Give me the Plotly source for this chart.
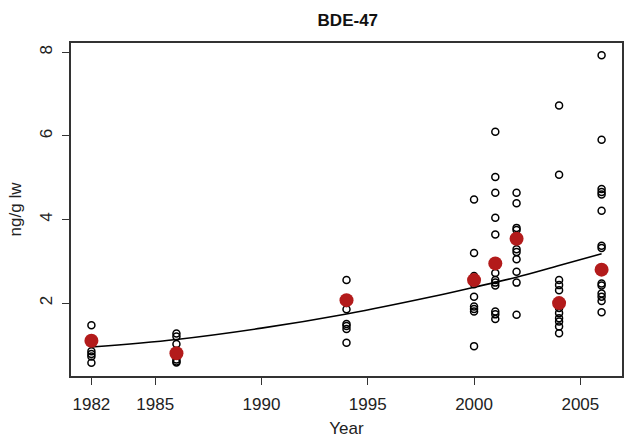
import plotly.graph_objects as go

# Individual sample values (ng/g lw) per year
years = [1982, 1986, 1994, 2000, 2001, 2002, 2004, 2006]
samples = {
    1982: [1.47, 0.85, 0.78, 0.72, 0.57],
    1986: [1.27, 1.20, 1.02, 0.65, 0.60, 0.58],
    1994: [2.55, 2.00, 1.85, 1.50, 1.45, 1.38, 1.05],
    2000: [4.48, 3.20, 2.65, 2.45, 2.15, 1.92, 1.86, 1.80, 0.97],
    2001: [6.10, 5.02, 4.64, 4.04, 3.64, 2.72, 2.55, 2.49, 2.42, 1.80, 1.73, 1.62],
    2002: [4.64, 4.39, 3.80, 3.75, 3.29, 3.22, 3.05, 2.75, 2.49, 1.72],
    2004: [6.73, 5.07, 2.55, 2.43, 2.31, 1.88, 1.76, 1.64, 1.56, 1.44, 1.28],
    2006: [7.93, 5.91, 4.73, 4.66, 4.60, 4.21, 3.37, 3.32, 2.47, 2.42, 2.23, 2.15, 2.05, 1.78],
}
# Yearly means (red dots)
mean_values = [1.10, 0.80, 2.07, 2.55, 2.95, 3.54, 2.00, 2.80]

# Trend line
trend_years = [1982, 1986, 1990, 1994, 1998, 2000, 2002, 2004, 2006]
trend_values = [0.95, 1.13, 1.40, 1.74, 2.15, 2.38, 2.62, 2.90, 3.18]

x_ticks = [1982, 1985, 1990, 1995, 2000, 2005]
y_ticks = [2, 4, 6, 8]

sx, sy = [], []
for yr in years:
    for v in samples[yr]:
        sx.append(yr)
        sy.append(v)

FONT = "Liberation Sans, Arial, Helvetica, sans-serif"

fig = go.Figure()
fig.add_trace(go.Scatter(x=trend_years, y=trend_values, mode="lines",
                         line=dict(color="black", width=1.6, shape="spline"),
                         hoverinfo="skip", showlegend=False))
fig.add_trace(go.Scatter(x=sx, y=sy, mode="markers",
                         marker=dict(symbol="circle-open", size=7, color="black",
                                     line=dict(width=1.5, color="black")),
                         showlegend=False))
fig.add_trace(go.Scatter(x=years, y=mean_values, mode="markers",
                         marker=dict(symbol="circle", size=14, color="#B31B1B",
                                     line=dict(width=0)),
                         showlegend=False))

fig.update_layout(
    width=629, height=440,
    margin=dict(l=71, r=5, t=43, b=62),
    paper_bgcolor="white", plot_bgcolor="white",
    font=dict(family=FONT, size=17, color="#222222"),
    title=dict(text="<b>BDE-47</b>", x=0.553, xanchor="center",
               y=1 - 20 / 440, yanchor="middle",
               font=dict(size=17, family=FONT, color="#111111")),
)
fig.update_xaxes(
    range=[1981.04, 2006.96], tickmode="array", tickvals=x_ticks,
    ticktext=[str(t) for t in x_ticks],
    showgrid=False, zeroline=False, showline=True, linecolor="#333333",
    linewidth=1.5, mirror=True, ticks="outside", ticklen=7, tickwidth=1.3,
    tickcolor="#333333", tickfont=dict(size=17), ticklabelstandoff=5,
    title=dict(text="Year", standoff=9, font=dict(size=17)),
)
fig.update_yaxes(
    range=[0.255, 8.225], tickmode="array", tickvals=y_ticks,
    ticktext=[str(t) for t in y_ticks], tickangle=-90,
    showgrid=False, zeroline=False, showline=True, linecolor="#333333",
    linewidth=1.5, mirror=True, ticks="outside", ticklen=7, tickwidth=1.3,
    tickcolor="#333333", tickfont=dict(size=17), ticklabelstandoff=3,
    title=dict(text="ng/g lw", standoff=12, font=dict(size=17)),
)

fig.write_html("out.html",
               config={"displayModeBar": False},
               post_script="document.body.style.margin='0';document.body.style.overflow='hidden';")
